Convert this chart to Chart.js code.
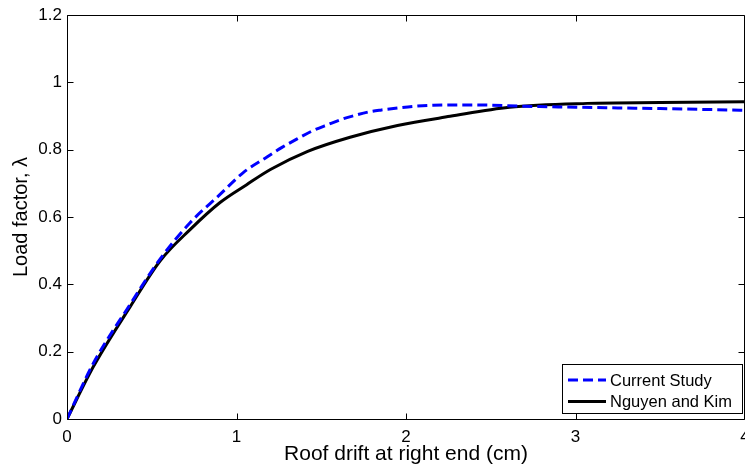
<!doctype html>
<html lang="en">
<head>
<meta charset="utf-8">
<script src="https://cdn.jsdelivr.net/npm/chart.js"></script>
<style>
  html, body { margin: 0; padding: 0; background: #fff; }
  #wrap { width: 745px; height: 468px; }
</style>
</head>
<body>
<div id="wrap">
  <canvas id="myChart" width="745" height="468"></canvas>
</div>

<script>
  // values
  const studyX = [0, 0.155, 0.372, 0.549, 0.726, 0.903, 1.04, 1.182, 1.266, 1.365, 1.444, 1.542, 1.62, 1.70, 1.778, 1.856, 1.955, 2.053, 2.16, 2.4, 2.7, 3.0, 3.5, 4.0];
  const studyY = [0, 0.165, 0.34, 0.475, 0.583, 0.667, 0.732, 0.779, 0.806, 0.834, 0.855, 0.875, 0.89, 0.902, 0.912, 0.918, 0.924, 0.929, 0.932, 0.933, 0.929, 0.926, 0.922, 0.917];
  const nguyenX = [0, 0.155, 0.372, 0.55, 0.726, 0.903, 1.06, 1.2, 1.42, 1.67, 1.95, 2.26, 2.61, 3.07, 3.5, 4.0];
  const nguyenY = [0, 0.155, 0.333, 0.47, 0.5625, 0.643, 0.696, 0.741, 0.795, 0.837, 0.872, 0.899, 0.926, 0.9375, 0.94, 0.942];
  const xTicks = [0, 1, 2, 3, 4];
  const yTicks = [0, 0.2, 0.4, 0.6, 0.8, 1, 1.2];
  const seriesNames = ['Current Study', 'Nguyen and Kim'];

  const FONT = "Arial, 'Liberation Sans', Helvetica, sans-serif";

  function toPoints(xs, ys) {
    const pts = [];
    for (let i = 0; i < xs.length; i++) pts.push({ x: xs[i], y: ys[i] });
    return pts;
  }

  // matlab style box with inward ticks, plus the legend inside the axes
  const boxPlugin = {
    id: 'box',
    afterDraw(chart) {
      const ctx = chart.ctx;
      const a = chart.chartArea;
      const xs = chart.scales.x, ys = chart.scales.y;
      const L = Math.round(a.left) + 0.5, R = Math.round(a.right) - 0.5;
      const T = Math.round(a.top) + 0.5, B = Math.round(a.bottom) + 0.5;
      ctx.save();
      ctx.strokeStyle = '#000';
      ctx.lineWidth = 1;
      ctx.beginPath();
      ctx.rect(L, T, R - L, B - T);
      xTicks.forEach(v => {
        const p = Math.round(xs.getPixelForValue(v)) + 0.5;
        ctx.moveTo(p, B); ctx.lineTo(p, B - 6);
        ctx.moveTo(p, T); ctx.lineTo(p, T + 6);
      });
      yTicks.forEach(v => {
        const p = Math.round(ys.getPixelForValue(v)) + 0.5;
        ctx.moveTo(L, p); ctx.lineTo(L + 6, p);
        ctx.moveTo(R, p); ctx.lineTo(R - 6, p);
      });
      ctx.stroke();

      // legend
      const bx = 562.5, by = 364.5, bw = 180, bh = 49;
      ctx.fillStyle = '#fff';
      ctx.fillRect(bx, by, bw, bh);
      ctx.strokeRect(bx, by, bw, bh);
      ctx.font = '16.5px ' + FONT;
      ctx.textBaseline = 'middle';
      chart.data.datasets.forEach((ds, i) => {
        const cy = 380 + i * 21.5;
        ctx.beginPath();
        ctx.strokeStyle = ds.borderColor;
        ctx.lineWidth = ds.borderWidth;
        ctx.setLineDash(ds.borderDash || []);
        ctx.moveTo(568, cy);
        ctx.lineTo(606, cy);
        ctx.stroke();
        ctx.setLineDash([]);
        ctx.fillStyle = '#000';
        ctx.fillText(ds.label, 610, cy + 1);
      });
      ctx.restore();
    }
  };

  const fmt = v => String(Number(Number(v).toFixed(1)));

  const canvas = document.getElementById('myChart');
  const chart = new Chart(canvas, {
    type: 'line',
    data: {
      datasets: [
        {
          label: seriesNames[0],
          data: toPoints(studyX, studyY),
          borderColor: 'rgb(0, 0, 255)',
          borderWidth: 3,
          borderDash: [10, 5],
          cubicInterpolationMode: 'monotone',
          pointRadius: 0,
          fill: false
        },
        {
          label: seriesNames[1],
          data: toPoints(nguyenX, nguyenY),
          borderColor: '#000',
          borderWidth: 3,
          cubicInterpolationMode: 'monotone',
          pointRadius: 0,
          fill: false
        }
      ]
    },
    options: {
      responsive: false,
      animation: false,
      events: [],
      layout: { padding: { top: 15, right: 0, left: 0, bottom: 0 } },
      plugins: {
        legend: { display: false },
        tooltip: { enabled: false },
        title: { display: false }
      },
      scales: {
        x: {
          type: 'linear',
          min: 0,
          max: 4,
          grid: { display: false, drawTicks: false },
          border: { display: false },
          ticks: {
            color: '#000',
            font: { family: FONT, size: 17 },
            padding: 8,
            maxRotation: 0,
            callback: fmt
          },
          afterBuildTicks(s) { s.ticks = xTicks.map(v => ({ value: v })); },
          afterFit(s) { s.height = 49; s.paddingLeft = 0; s.paddingRight = 0; },
          title: {
            display: true,
            text: 'Roof drift at right end (cm)',
            color: '#000',
            font: { family: FONT, size: 21 },
            padding: { top: 0, bottom: 1 }
          }
        },
        y: {
          type: 'linear',
          min: 0,
          max: 1.2,
          grid: { display: false, drawTicks: false },
          border: { display: false },
          ticks: {
            color: '#000',
            font: { family: FONT, size: 17 },
            padding: 5,
            callback: fmt
          },
          afterBuildTicks(s) { s.ticks = yTicks.map(v => ({ value: v })); },
          afterFit(s) { s.width = 67; s.paddingTop = 0; s.paddingBottom = 0; },
          title: {
            display: true,
            text: 'Load factor, λ',
            color: '#000',
            font: { family: FONT, size: 20 },
            padding: { top: 9, bottom: 0 }
          }
        }
      }
    },
    plugins: [boxPlugin]
  });
</script>
</body>
</html>
